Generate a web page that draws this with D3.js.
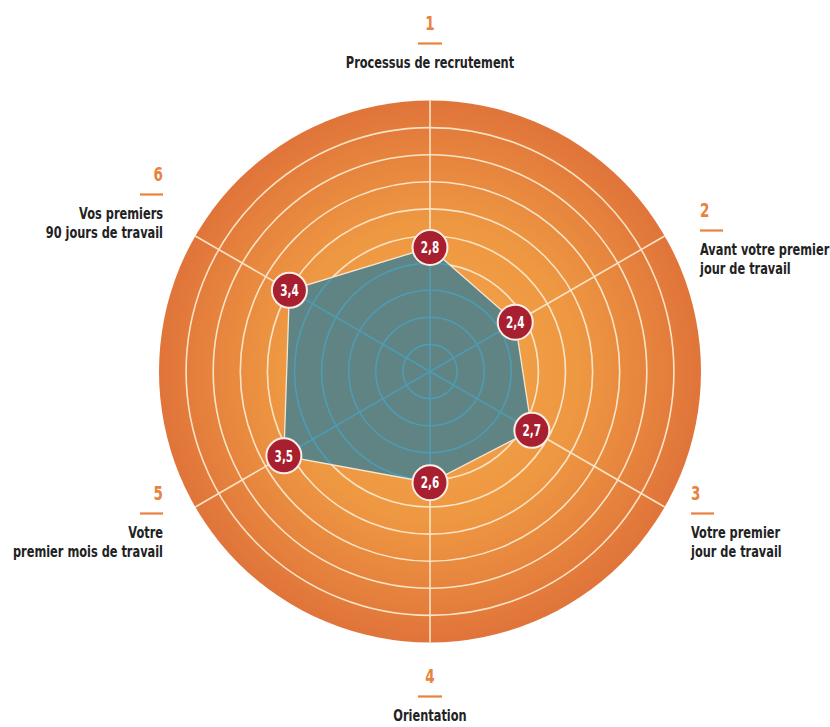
<!DOCTYPE html>
<html>
<head>
<meta charset="utf-8">
<script src="https://cdn.jsdelivr.net/npm/d3@7"></script>
<style>
  body { margin: 0; background: #fff; }
  svg text { font-family: "DejaVu Sans", sans-serif; font-stretch: condensed; font-weight: bold; }
</style>
</head>
<body>
<svg id="chart" width="830" height="727"></svg>
<script>
// data
const axisNumbers = ['1', '2', '3', '4', '5', '6']
const axisLabels = [
    ['Processus de recrutement'],
    ['Avant votre premier', 'jour de travail'],
    ['Votre premier', 'jour de travail'],
    ['Orientation'],
    ['Votre', 'premier mois de travail'],
    ['Vos premiers', '90 jours de travail'],
]
const scores = [2.8, 2.4, 2.7, 2.6, 3.5, 3.4]
const ringCount = 10

// layout
const cx = 430
const cy = 371.5
const R = 271
const squeeze = 0.79
// label block anchor (offset from center), text anchor
const labelLayout = [
    { dx: 0, dy: -342, anchor: 'middle' },
    { dx: 270, dy: -155, anchor: 'start' },
    { dx: 261, dy: 128, anchor: 'start' },
    { dx: 0, dy: 311, anchor: 'middle' },
    { dx: -267, dy: 128, anchor: 'end' },
    { dx: -267, dy: -191, anchor: 'end' },
]

const svg = d3.select('#chart')
const defs = svg.append('defs')

const grad = defs.append('radialGradient')
    .attr('id', 'bg')
    .attr('cx', '50%').attr('cy', '50%').attr('r', '50%')
grad.append('stop').attr('offset', '0%').attr('stop-color', '#f4a649')
grad.append('stop').attr('offset', '55%').attr('stop-color', '#ee9842')
grad.append('stop').attr('offset', '100%').attr('stop-color', '#e0743a')

const n = scores.length
const angle = d3.scaleLinear().domain([0, n]).range([0, 2 * Math.PI])
const r = d3.scaleLinear().domain([0.86, 5.1]).range([0, R])
const ringR = d3.scaleLinear().domain([0, ringCount]).range([0, R])

const g = svg.append('g').attr('transform', `translate(${cx},${cy})`)

// background disc
g.append('circle').attr('r', R).attr('fill', 'url(#bg)')

const drawGrid = (sel, color, width) => {
    sel.selectAll('circle.ring')
        .data(d3.range(1, ringCount))
        .join('circle')
        .attr('class', 'ring')
        .attr('r', d => ringR(d))
        .attr('fill', 'none')
        .attr('stroke', color)
        .attr('stroke-width', width)
    sel.selectAll('line.spoke')
        .data(d3.range(n))
        .join('line')
        .attr('class', 'spoke')
        .attr('x1', 0).attr('y1', 0)
        .attr('x2', i => Math.sin(angle(i)) * R)
        .attr('y2', i => -Math.cos(angle(i)) * R)
        .attr('stroke', color)
        .attr('stroke-width', width)
}

drawGrid(g.append('g'), '#fbe3c6', 1.6)

const pts = scores.map((v, i) => [Math.sin(angle(i)) * r(v), -Math.cos(angle(i)) * r(v)])
const polyPath = d3.line().curve(d3.curveLinearClosed)(pts)

defs.append('clipPath').attr('id', 'polyClip')
    .append('path').attr('d', polyPath)

g.append('path')
    .attr('d', polyPath)
    .attr('fill', '#5f8483')

g.append('g')
    .attr('clip-path', 'url(#polyClip)')
    .call(sel => drawGrid(sel, '#4e9bb3', 1.6))

g.append('path')
    .attr('d', polyPath)
    .attr('fill', 'none')
    .attr('stroke', '#f6e6d4')
    .attr('stroke-width', 1.3)

// score dots
const fmt = d3.formatLocale({ decimal: ',', thousands: ' ', grouping: [3], currency: ['', '€'] }).format('.1f')
const dots = g.selectAll('g.dot')
    .data(scores)
    .join('g')
    .attr('class', 'dot')
    .attr('transform', (v, i) => `translate(${pts[i][0]},${pts[i][1]})`)
dots.append('circle')
    .attr('r', 17.5)
    .attr('fill', '#a81f2f')
    .attr('stroke', '#fbeee6')
    .attr('stroke-width', 2)
dots.append('text')
    .attr('text-anchor', 'middle')
    .attr('dy', '0.36em')
    .attr('transform', `scale(${squeeze * 0.92},1)`)
    .attr('fill', '#fff')
    .attr('font-size', 16)
    .text(v => fmt(v))

// axis labels
const labels = svg.selectAll('g.lab')
    .data(axisLabels)
    .join('g')
    .attr('class', 'lab')
    .attr('transform', (d, i) => `translate(${cx + labelLayout[i].dx},${cy + labelLayout[i].dy})`)

labels.append('text')
    .attr('text-anchor', (d, i) => labelLayout[i].anchor)
    .attr('transform', `scale(${squeeze},1)`)
    .attr('fill', '#e8823c')
    .attr('font-size', 19)
    .text((d, i) => axisNumbers[i])

labels.append('line')
    .attr('x1', (d, i) => labelLayout[i].anchor === 'middle' ? -12 : labelLayout[i].anchor === 'end' ? -23 : 0)
    .attr('x2', (d, i) => labelLayout[i].anchor === 'middle' ? 12 : labelLayout[i].anchor === 'end' ? 0 : 23)
    .attr('y1', 14).attr('y2', 14)
    .attr('stroke', '#e8823c')
    .attr('stroke-width', 2.2)

labels.each(function (lines, i) {
    const t = d3.select(this).append('text')
        .attr('text-anchor', labelLayout[i].anchor)
        .attr('transform', `scale(${squeeze},1)`)
        .attr('fill', '#222')
        .attr('font-size', 16)
    lines.forEach((line, j) => {
        t.append('tspan')
            .attr('x', 0)
            .attr('y', 39 + j * 19)
            .text(line)
    })
})
</script>
</body>
</html>
